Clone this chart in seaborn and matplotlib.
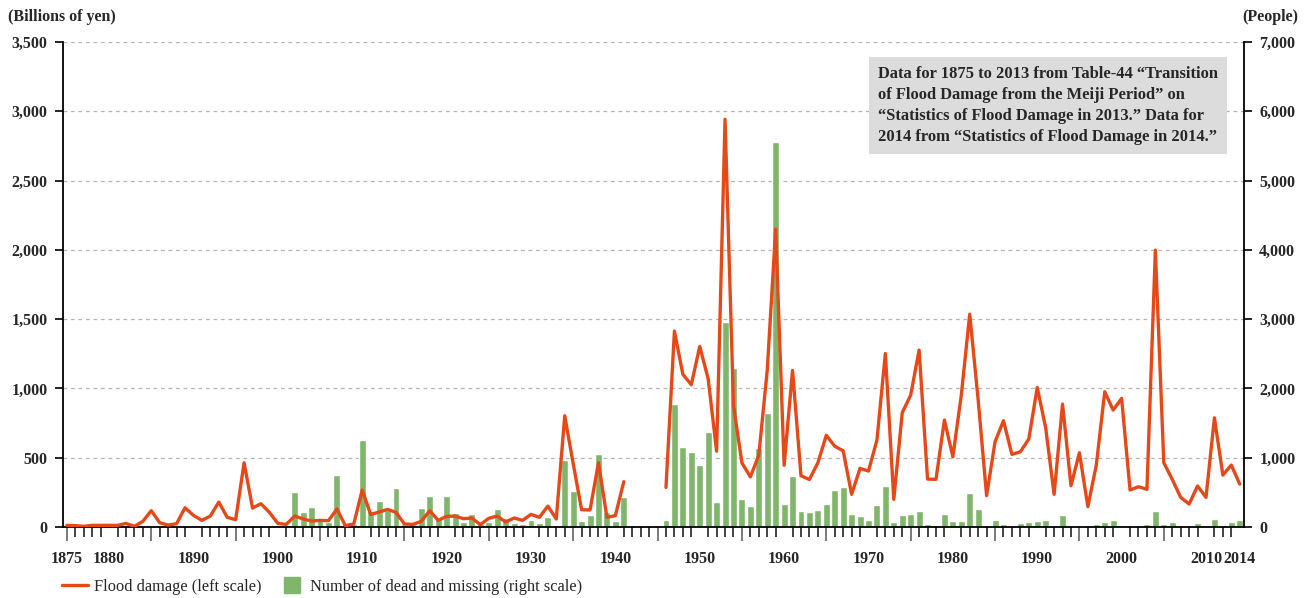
import numpy as np
import pandas as pd
import matplotlib
matplotlib.use("Agg")
import matplotlib.pyplot as plt
import seaborn as sns
from matplotlib.lines import Line2D

# ---------------- data ----------------
years = list(range(1875, 2015))

flood_damage = [  # billions of yen, 1875-2014 (NaN = no data)
    12, 10, 5, 12, 12, 12, 12, 26, 5, 41, 118, 31, 14, 24, 139, 84, 48, 79, 180, 70,
    53, 464, 137, 168, 106, 26, 19, 79, 58, 43, 48, 46, 130, 10, 22,
    267, 91, 108, 127, 106, 22, 19, 41, 118, 48, 77, 79, 60, 65, 17, 63, 79, 36, 65, 48,
    91, 70, 151, 58, 803, 459, 125, 123, 464, 70, 82, 327,
    np.nan, np.nan, np.nan, np.nan,
    286, 1414, 1102, 1027, 1303, 1070, 547, 2942, 878, 463, 362, 518, 1130, 2150, 446,
    1130, 370, 343, 463, 662, 583, 550, 236, 423,
    404, 627, 1252, 200, 825, 952, 1277, 346, 344, 772, 507, 952, 1536, 916, 226, 615,
    767, 524, 543, 635, 1007, 716, 236, 887, 298, 536, 147, 447, 976, 844, 928, 267,
    291, 272, 1998, 464, 344, 214, 166, 296, 214, 788, 375, 447, 310,
]

dead_missing = [np.nan] * 27 + [  # people, 1875-2014 (NaN = no data)
    505, 216, 288, 130, 72, 750, 43, 43,
    1255, 231, 375, 245, 563, 43, 72, 274, 447, 120, 447, 202, 72, 188, 43, 72, 260,
    130, 58, 43, 101, 58, 144, 14, 966, 519, 87, 173, 1053, 216, 87, 433,
    np.nan, np.nan, np.nan, np.nan,
    101, 1771, 1152, 1080, 893, 1368, 360, 2966, 2290, 403, 302, 1138, 1642, 5558, 331,
    734, 230, 216, 245, 331, 533, 577, 187, 159,
    101, 317, 591, 72, 173, 187, 231, 43, 29, 187, 87, 87, 490, 260, 14, 101,
    43, 14, 58, 72, 87, 101, 3, 173, 3, 14, 14, 43, 72, 101, 3, 14,
    14, 43, 231, 43, 72, 14, 14, 58, 14, 115, 29, 72, 101,
]

left_ticks = [0, 500, 1000, 1500, 2000, 2500, 3000, 3500]
right_ticks = [0, 1000, 2000, 3000, 4000, 5000, 6000, 7000]
decade_labels = [1880, 1890, 1900, 1910, 1920, 1930, 1940, 1950, 1960,
                 1970, 1980, 1990, 2000, 2010, 2014]
half_decade = [1875, 1885, 1895, 1905, 1915, 1925, 1935, 1945, 1955, 1965,
               1975, 1985, 1995, 2005]

note = ("Data for 1875 to 2013 from Table-44 \u201cTransition\n"
        "of Flood Damage from the Meiji Period\u201d on\n"
        "\u201cStatistics of Flood Damage in 2013.\u201d Data for\n"
        "2014 from \u201cStatistics of Flood Damage in 2014.\u201d")

# ---------------- style ----------------
sns.set_style("white")
plt.rcParams["font.family"] = ["Liberation Serif", "DejaVu Serif"]

LINE_C = "#E5491A"
BAR_C = "#80B66B"
FS = 11.5

df = pd.DataFrame({"year": years, "damage": flood_damage, "dead": dead_missing})
bars = df.dropna(subset=["dead"])

fig = plt.figure(figsize=(13.06, 5.98), dpi=100)
rect = [0.048, 0.1187, 0.9045, 0.811]
ax_bar = fig.add_axes(rect)
ax_line = ax_bar.twinx()

# bars (right scale)
sns.barplot(data=bars, x="year", y="dead", native_scale=True, color=BAR_C,
            width=0.82, errorbar=None, saturation=1, ax=ax_bar, zorder=2)

# line (left scale), broken at the war-time gap
df["seg"] = df["damage"].isna().cumsum()
for _, seg in df.dropna(subset=["damage"]).groupby("seg"):
    sns.lineplot(data=seg, x="year", y="damage", color=LINE_C, linewidth=2.4,
                 ax=ax_line, legend=False)

# axes sides
ax_line.yaxis.tick_left()
ax_line.yaxis.set_label_position("left")
ax_bar.yaxis.tick_right()
ax_bar.yaxis.set_label_position("right")

ax_line.set_ylim(0, 3500)
ax_bar.set_ylim(0, 7000)
ax_bar.set_xlim(1874.5, 2014.5)
ax_line.set_xlim(1874.5, 2014.5)

ax_line.set_yticks(left_ticks, [f"{v:,}" for v in left_ticks])
ax_bar.set_yticks(right_ticks, [f"{v:,}" for v in right_ticks])

# grid on bar axes (behind bars)
ax_bar.set_axisbelow(True)
ax_bar.yaxis.grid(True, linestyle=(0, (3, 3)), color="#b5b5b5", linewidth=0.9)
ax_bar.xaxis.grid(False)

for a in (ax_bar, ax_line):
    a.set_xlabel("")
    a.set_ylabel("")
    for s in a.spines.values():
        s.set_visible(False)
ax_line.spines["left"].set_visible(True)
ax_bar.spines["right"].set_visible(True)
ax_bar.spines["bottom"].set_visible(True)
for s in (ax_line.spines["left"], ax_bar.spines["right"], ax_bar.spines["bottom"]):
    s.set_color("black")
    s.set_linewidth(1.3)

ax_line.tick_params(axis="y", direction="out", length=6, width=1.2, color="black",
                    labelsize=FS, pad=5)
ax_bar.tick_params(axis="y", direction="out", length=6, width=1.2, color="black",
                   labelsize=FS, pad=5, left=False, right=True)
for lab in ax_line.get_yticklabels() + ax_bar.get_yticklabels():
    lab.set_fontweight("bold")

# x ticks: decades (long), half-decades (medium), years (short)
ax_bar.set_xticks(decade_labels, [str(y) for y in decade_labels])
ax_bar.set_xticks([y for y in years if y not in decade_labels and y not in half_decade],
                  minor=True)
ax_bar.tick_params(axis="x", which="major", direction="out", length=14, width=1.3,
                   color="#6f6f6f", labelsize=FS, pad=3)
ax_bar.tick_params(axis="x", which="minor", direction="out", length=7, width=1.2,
                   color="#222222", bottom=True)
for lab in ax_bar.get_xticklabels():
    lab.set_fontweight("bold")

sec = ax_bar.secondary_xaxis("bottom")
sec.set_xticks(half_decade, ["1875"] + [""] * (len(half_decade) - 1))
sec.tick_params(axis="x", direction="out", length=10, width=1.3, color="#6f6f6f",
                labelsize=FS, pad=7)
sec.spines["bottom"].set_visible(False)
for lab in sec.get_xticklabels():
    lab.set_fontweight("bold")

# unit labels
fig.text(0.006, 0.972, "(Billions of yen)", fontsize=FS, fontweight="bold",
         ha="left", va="center")
fig.text(0.994, 0.972, "(People)", fontsize=FS, fontweight="bold",
         ha="right", va="center")

# note box
ax_line.text(0.690, 0.9505, note, transform=ax_line.transAxes, ha="left", va="top",
             fontsize=11.9, fontweight="bold", linespacing=1.42,
             bbox=dict(boxstyle="square,pad=0.55", facecolor="#DCDCDC", edgecolor="none"))

# legend
handles = [Line2D([0], [0], color=LINE_C, linewidth=2.4),
           Line2D([0], [0], marker="s", markersize=11.5, linestyle="none",
                  markerfacecolor=BAR_C, markeredgecolor=BAR_C)]
fig.legend(handles, ["Flood damage (left scale)", "Number of dead and missing (right scale)"],
           loc="center left", bbox_to_anchor=(0.0361, 0.019), ncol=2, frameon=False,
           fontsize=11.8, handlelength=1.6, handletextpad=0.35, columnspacing=1.04)

fig.savefig("out.png", dpi=100)
